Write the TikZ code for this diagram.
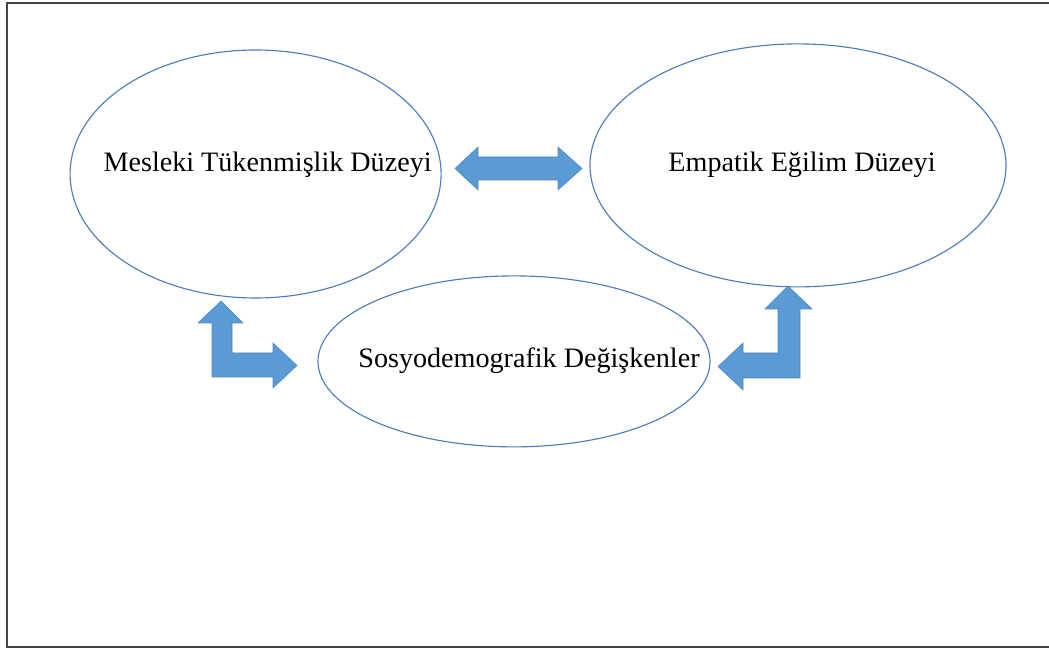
\documentclass[tikz,border=0pt]{standalone}
\usepackage{fontspec}
\setmainfont{Liberation Serif}
\usetikzlibrary{shapes.geometric}
\definecolor{ovalline}{HTML}{4A7EBB}
\definecolor{arrowfill}{HTML}{5B9BD5}
\definecolor{arrowline}{HTML}{4F86C0}
\definecolor{frameline}{HTML}{454545}
\begin{document}
\begin{tikzpicture}[
  oval/.style={ellipse, draw=ovalline, line width=0.8pt, inner sep=0pt},
  label/.style={anchor=base, inner sep=0pt, font=\fontsize{20}{24}\selectfont},
  blockarrow/.style={fill=arrowfill, draw=arrowline, line width=0.4pt, line join=miter}
]
\useasboundingbox (0,0) rectangle (26.225,16.225);
\draw[frameline, line width=1.4pt] (26.4,16.14) -- (0.175,16.14) -- (0.175,0.05) -- (26.4,0.05);

\node[oval, minimum width=9.275cm, minimum height=6.2cm] (mesleki) at (6.39,11.875) {};
\node[oval, minimum width=10.4cm, minimum height=6.075cm] (empatik) at (19.95,12.09) {};
\node[oval, minimum width=9.8cm, minimum height=4.275cm] (sosyo) at (12.85,7.19) {};

\node[label] (meslekitxt) at (6.69,11.925) {Mesleki Tükenmişlik Düzeyi};
\node[label] (empatiktxt) at (20.05,11.925) {Empatik Eğilim Düzeyi};
\node[label] (sosyotxt) at (13.225,7.025) {Sosyodemografik Değişkenler};

\draw[blockarrow] (11.375,12.0125) -- (11.95,12.55) -- (11.95,12.3) -- (13.95,12.3) -- (13.95,12.55) -- (14.55,12.0125) -- (13.95,11.475) -- (13.95,11.725) -- (11.95,11.725) -- (11.95,11.475) -- cycle;

\draw[blockarrow] (5.525,8.7) -- (6.075,8.15) -- (5.8,8.15) -- (5.8,7.4) -- (6.825,7.4) -- (6.825,7.65) -- (7.425,7.0875) -- (6.825,6.525) -- (6.825,6.8) -- (5.3,6.8) -- (5.3,8.15) -- (4.95,8.15) -- cycle;

\draw[blockarrow] (19.7,9.075) -- (20.3,8.5) -- (20,8.5) -- (20,6.775) -- (18.575,6.775) -- (18.575,6.475) -- (17.95,7.0625) -- (18.575,7.65) -- (18.575,7.4) -- (19.45,7.4) -- (19.45,8.5) -- (19.125,8.5) -- cycle;

\end{tikzpicture}
\end{document}
